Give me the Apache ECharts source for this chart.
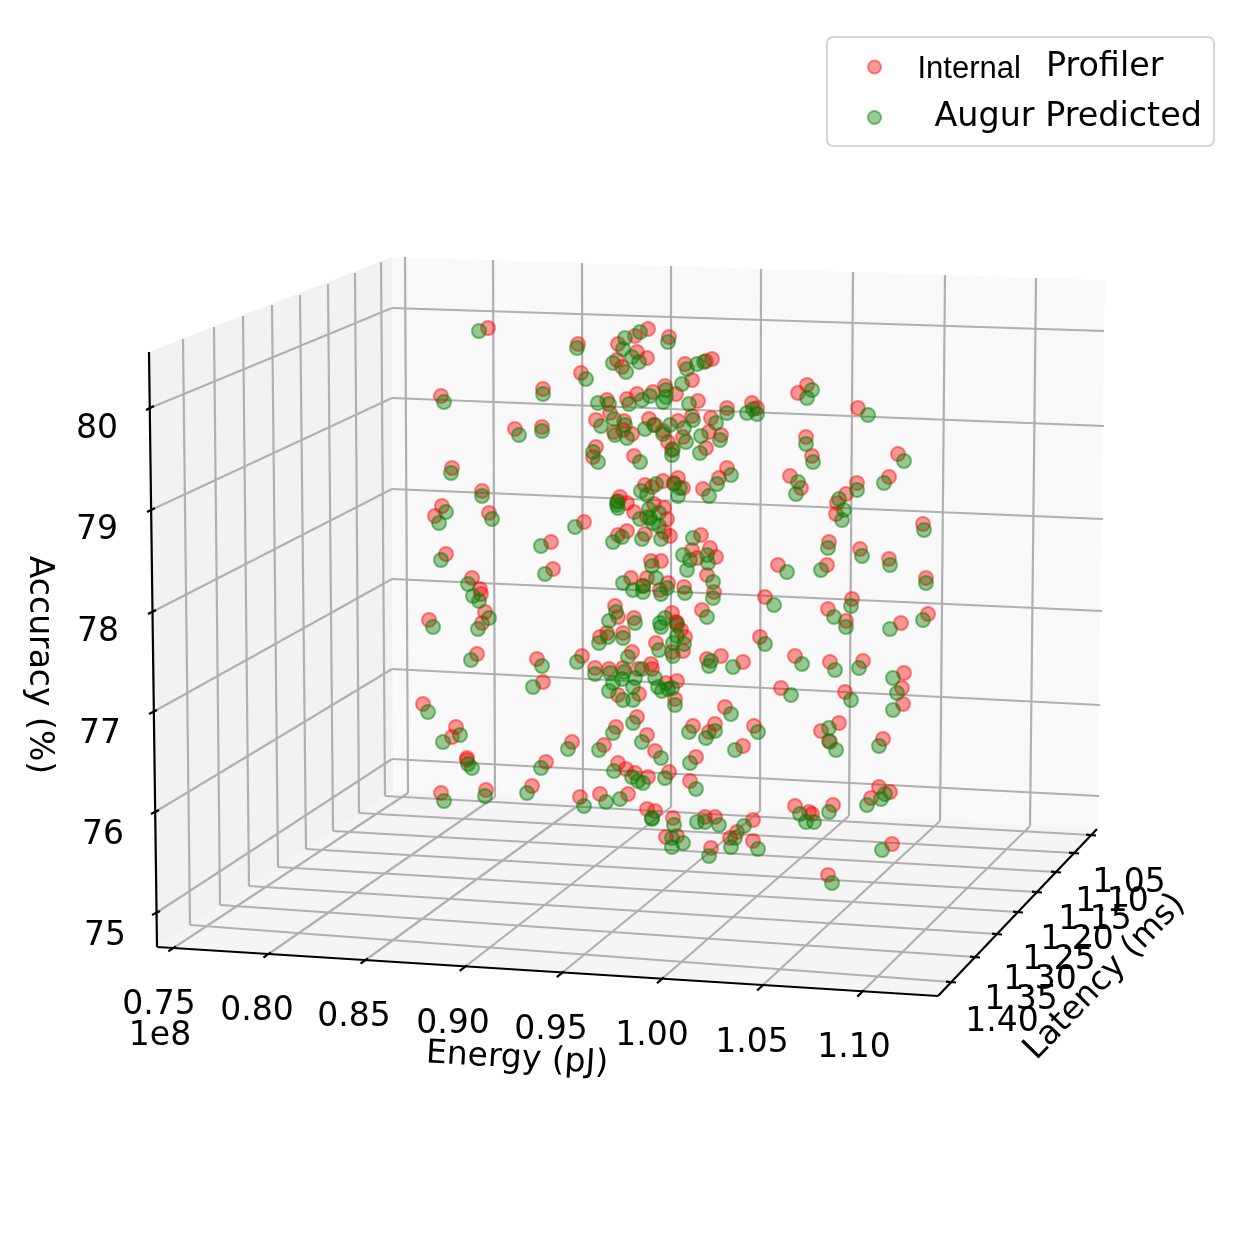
<!DOCTYPE html>
<html><head><meta charset="utf-8">
<style>html,body{margin:0;padding:0;background:#fff}#c{width:1250px;height:1239px}</style>
<script src="https://cdn.jsdelivr.net/npm/echarts@6/dist/echarts.min.js"></script>
</head><body><div id="c"></div>
<script>
// Point positions, on the projected plane of the 3D view
const internalProfiler = [[488,328],[578,344],[581,373],[441,396],[543,389],[515,429],[542,427],[452,468],[482,491],[442,506],
[648,329],[635,336],[618,344],[669,337],[637,352],[647,358],[617,360],[622,367],[685,364],[712,359],[706,361],[692,380],[665,386],[676,394],[653,392],[637,394],[627,399],[607,400],[698,401],[727,408],[752,403],[757,408],[610,413],[596,420],[624,421],[649,419],[655,425],[614,432],[623,430],[632,434],[663,431],[678,421],[692,416],[711,418],[709,432],[721,435],[683,437],[668,442],[706,448],[672,450],[596,447],[593,457],[634,456],[727,468],[719,478],[703,489],[678,478],[674,483],[683,488],[663,481],[645,485],[652,487],[620,497],[627,503],[654,504],
[807,385],[798,393],[858,408],[806,437],[812,456],[790,476],[801,488],[898,454],[889,477],[857,483],[846,494],[837,503],[836,514],[829,542],[860,549],[923,524],[889,559],
[435,516],[489,513],[446,554],[584,522],[551,542],[553,569],[472,578],[480,589],[481,594],[485,612],[482,623],[429,620],[477,654],[537,659],[582,656],[595,668],[543,682],[600,637],
[618,501],[634,512],[664,508],[667,519],[645,534],[627,531],[618,535],[670,536],[664,532],[701,535],[692,550],[710,548],[716,557],[697,558],[661,561],[651,561],[707,575],[631,578],[647,578],[668,583],[660,590],[684,587],[714,592],[615,606],[618,617],[634,618],[702,610],[672,613],[676,622],[643,586],[647,517],
[607,633],[623,633],[656,643],[681,630],[685,637],[683,651],[672,652],[632,652],[721,656],[707,659],[743,662],[609,669],[623,668],[638,669],[651,664],[652,669],[666,683],[677,681],[618,695],[639,694],[675,699],[725,707],[693,726],[715,724],[709,732],[637,717],[616,727],[647,735],[604,745],[655,751],[743,746],[677,623],
[778,565],[827,565],[926,578],[765,597],[852,599],[828,609],[846,621],[901,623],[928,614],[760,637],[795,656],[830,662],[863,661],[904,673],[902,688],[903,704],[781,688],[845,692],[754,726],[839,723],[821,731],[830,742],
[423,704],[456,727],[452,737],[467,758],[467,760],[572,742],[546,762],[441,793],[486,790],[532,786],[580,797],[600,794],
[618,763],[626,769],[635,773],[648,777],[669,772],[696,757],[690,781],[628,794],[647,809],[655,811],[673,818],[666,837],[677,836],[705,817],[715,817],[711,848],[753,820],[737,832],[730,838],[753,841],
[883,739],[795,806],[809,812],[812,814],[833,805],[879,787],[871,798],[890,792],[892,844],[828,875]];
const augurPredicted = [[479,331],[577,348],[586,379],[444,402],[543,394],[519,435],[542,431],[451,473],[482,496],[446,512],
[640,332],[625,338],[623,349],[668,342],[632,357],[639,362],[613,363],[626,372],[687,369],[704,362],[697,364],[682,384],[666,390],[650,396],[642,400],[629,404],[666,397],[663,402],[609,404],[598,403],[689,404],[727,413],[747,413],[753,409],[757,414],[614,419],[601,426],[625,425],[654,425],[645,429],[615,435],[627,438],[663,434],[670,425],[684,428],[693,420],[716,423],[701,436],[720,440],[686,442],[673,449],[700,453],[672,455],[593,452],[598,462],[640,462],[731,475],[717,484],[709,496],[674,484],[680,488],[678,496],[656,484],[641,491],[647,495],[617,502],
[812,390],[807,398],[868,415],[806,444],[813,462],[798,482],[796,494],[904,461],[884,483],[857,490],[839,499],[844,510],[842,520],[828,548],[862,556],[924,530],[890,565],
[617,505],[618,508],[649,509],[659,513],[640,519],[650,518],[653,523],[659,526],[642,539],[622,537],[613,542],[661,539],[693,538],[683,555],[707,555],[708,563],[690,560],[687,570],[652,566],[713,582],[623,583],[643,586],[633,590],[656,578],[643,592],[667,588],[661,594],[685,593],[713,598],[616,612],[609,621],[635,623],[707,617],[665,618],[660,623],
[439,523],[492,519],[441,560],[575,527],[541,546],[545,574],[468,584],[473,596],[479,601],[489,618],[478,629],[433,627],[471,660],[542,666],[577,662],[595,674],[533,687],[599,643],
[608,637],[623,638],[659,650],[661,627],[677,625],[677,636],[673,643],[684,644],[673,656],[628,657],[711,661],[709,666],[733,667],[610,673],[624,672],[642,669],[635,678],[622,679],[613,683],[609,691],[655,678],[658,687],[672,688],[662,691],[668,689],[633,687],[623,700],[633,700],[675,705],[731,714],[689,732],[715,731],[706,738],[633,723],[613,733],[642,742],[599,750],[661,758],[735,750],
[787,572],[821,570],[926,583],[774,605],[851,606],[834,617],[846,627],[890,629],[923,620],[765,644],[802,664],[835,670],[859,668],[893,678],[897,693],[893,710],[791,695],[851,700],[758,732],[829,728],[829,741],[836,750],
[428,712],[460,735],[443,742],[468,764],[472,768],[568,749],[541,768],[444,801],[485,796],[527,793],[584,806],[606,802],
[614,771],[632,777],[638,781],[643,783],[665,778],[690,763],[696,789],[620,799],[652,818],[652,819],[674,825],[672,838],[683,843],[672,847],[697,822],[705,822],[719,825],[709,856],[744,826],[735,838],[731,847],[758,849],
[879,746],[800,814],[806,822],[814,822],[829,812],[885,794],[881,799],[867,805],[882,850],[832,883]];

// Tick labels
const energyTicks = ['0.75','0.80','0.85','0.90','0.95','1.00','1.05','1.10'];
const latencyTicks = ['1.05','1.10','1.15','1.20','1.25','1.30','1.35','1.40'];
const accuracyTicks = ['80','79','78','77','76','75'];

// Anchors of the 3D box on the projected plane
const energyFront = [[175,947],[270,953],[367,959],[466,966],[563,972],[663,978],[763,985],[863,991]];
const energyBack = [[408,793],[495,797],[583,802],[671,807],[760,811],[849,816],[940,821],[1030,826]];
const energyTop = [[405,257],[493,260],[582,263],[671,266],[761,269],[853,272],[945,275],[1036,278]];
const latencyRight = [[1091,835],[1074,853],[1056,872],[1037,892],[1018,912],[997,934],[975,957],[951,982]];
const latencyLeft = [[385,796],[359,813],[333,831],[306,849],[278,867],[249,886],[220,905],[190,925]];
const latencyTop = [[381,262],[355,273],[328,284],[300,295],[272,305],[243,316],[214,327],[183,339]];
const accuracyLeft = [[150,408],[151,510],[152,612],[153,712],[155,812],[156,913]];
const accuracyBack = [[392,308],[392,398],[392,489],[392,579],[392,669],[392,759]];
const accuracyRight = [[1104,331],[1104,426],[1103,519],[1102,611],[1100,705],[1099,796]];
const energyLabelAt = [[159,1005],[257,1011],[354,1017],[453,1024],[551,1030],[652,1036],[752,1043],[854,1048]];
const latencyLabelAt = [[1129,883],[1112,902],[1095,920],[1077,940],[1059,960],[1040,980],[1021,1000],[1002,1022]];
const accuracyLabelAt = [[97,429],[97,530],[98,632],[100,734],[103,835],[105,936]];
const panes = [
 {pts:[149,352,392,257,393,792,157,947],c:'#f2f2f2'},
 {pts:[392,257,1105,280,1097,829,393,792],c:'#f9f9f9'},
 {pts:[157,947,938,996,1097,829,393,792],c:'#f5f5f5'}];

const seg = (a,b)=>[a[0],a[1],b[0],b[1]];
const gridSegs = [];
energyFront.forEach((p,i)=>{gridSegs.push(seg(p,energyBack[i]));gridSegs.push(seg(energyBack[i],energyTop[i]));});
latencyRight.forEach((p,i)=>{gridSegs.push(seg(p,latencyLeft[i]));gridSegs.push(seg(latencyLeft[i],latencyTop[i]));});
accuracyLeft.forEach((p,i)=>{gridSegs.push(seg(p,accuracyBack[i]));gridSegs.push(seg(accuracyBack[i],accuracyRight[i]));});

const axisSegs = [[149,352,157,947],[157,947,938,996],[938,996,1097,829]];
energyFront.forEach((p,i)=>{const b=energyBack[i],d=Math.hypot(b[0]-p[0],b[1]-p[1]),ux=(b[0]-p[0])/d,uy=(b[1]-p[1])/d;
  axisSegs.push([p[0]-8*ux,p[1]-8*uy,p[0]+1*ux,p[1]+1*uy]);});
latencyRight.forEach((p)=>{axisSegs.push([p[0]-5,p[1]-0.3,p[0]+5,p[1]+0.5]);});
accuracyLeft.forEach((p)=>{axisSegs.push([p[0]-4,p[1]+2,p[0]+4,p[1]-2]);});

const FONT = '"DejaVu Sans"';
const textRows = [];
energyTicks.forEach((t,i)=>textRows.push([energyLabelAt[i][0],energyLabelAt[i][1],t,0]));
latencyTicks.forEach((t,i)=>textRows.push([latencyLabelAt[i][0],latencyLabelAt[i][1],t,0]));
accuracyTicks.forEach((t,i)=>textRows.push([accuracyLabelAt[i][0],accuracyLabelAt[i][1],t,0]));
textRows.push([160,1036,'1e8',0],[517,1059,'Energy (pJ)',-3.4],[1105,977,'Latency (ms)',46],[39,665,'Accuracy (%)',-90]);

function lineSeries(data,color,width,z){
  return {type:'custom',silent:true,z,clip:false,data,encode:{x:0,y:1},
    renderItem(p,api){
      const a=api.coord([api.value(0),api.value(1)]),b=api.coord([api.value(2),api.value(3)]);
      return {type:'line',shape:{x1:a[0],y1:a[1],x2:b[0],y2:b[1]},style:{stroke:color,lineWidth:width,fill:null}};
    }};
}
const chart = echarts.init(document.getElementById('c'),null,{renderer:'canvas',width:1250,height:1239});
chart.setOption({
  animation:false,backgroundColor:'#fff',
  grid:{left:0,right:0,top:0,bottom:0},
  xAxis:{type:'value',min:0,max:1250,show:false},
  yAxis:{type:'value',min:0,max:1239,inverse:true,show:false},
  legend:{
    left:827,top:37,orient:'vertical',align:'left',
    padding:[12,12,12,40],itemWidth:76,itemHeight:13,itemGap:16,
    backgroundColor:'#fff',borderColor:'#d5d5d5',borderWidth:2,borderRadius:6,
    selectedMode:false,
    data:[{name:'Internal Profiler',icon:'circle'},{name:'Augur Predicted',icon:'circle'}],
    formatter:n=>n==='Internal Profiler'?'{a|Internal}{b|Profiler}':'{c|Augur Predicted}',
    textStyle:{rich:{
      a:{fontFamily:'"Liberation Sans"',fontSize:31,lineHeight:34,color:'#000',padding:[5,0,0,0]},
      b:{fontFamily:FONT,fontSize:33.4,lineHeight:34,color:'#000',padding:[0,0,0,25]},
      c:{fontFamily:FONT,fontSize:33.4,lineHeight:34,color:'#000',padding:[0,0,0,17]}
    }}
  },
  series:[
    {type:'custom',silent:true,z:1,clip:false,data:panes.map(p=>p.pts),encode:{x:0,y:1},
      renderItem(p,api){
        const pts=[0,2,4,6].map(i=>api.coord([api.value(i),api.value(i+1)]));
        return {type:'polygon',shape:{points:pts},style:{fill:panes[p.dataIndex].c,stroke:null}};
      }},
    lineSeries(gridSegs,'#b0b0b0',2.2,2),
    lineSeries(axisSegs,'#000',2.2,3),
    {name:'Internal Profiler',type:'scatter',z:4,symbol:'circle',symbolSize:14,data:internalProfiler,
      itemStyle:{color:'rgba(255,0,0,0.40)',borderColor:'rgba(255,0,0,0.45)',borderWidth:2,opacity:1}},
    {name:'Augur Predicted',type:'scatter',z:5,symbol:'circle',symbolSize:14,data:augurPredicted,
      itemStyle:{color:'rgba(0,128,0,0.40)',borderColor:'rgba(0,128,0,0.5)',borderWidth:2,opacity:1}},
    {type:'custom',silent:true,z:6,clip:false,data:textRows,encode:{x:0,y:1},
      renderItem(p,api){
        const r=textRows[p.dataIndex],c=api.coord([r[0],r[1]]);
        return {type:'text',x:c[0],y:c[1],rotation:r[3]*Math.PI/180,
          style:{text:r[2],fontFamily:FONT,fontSize:33,fill:'#000',align:'center',verticalAlign:'middle'}};
      }}
  ]
});
</script></body></html>
